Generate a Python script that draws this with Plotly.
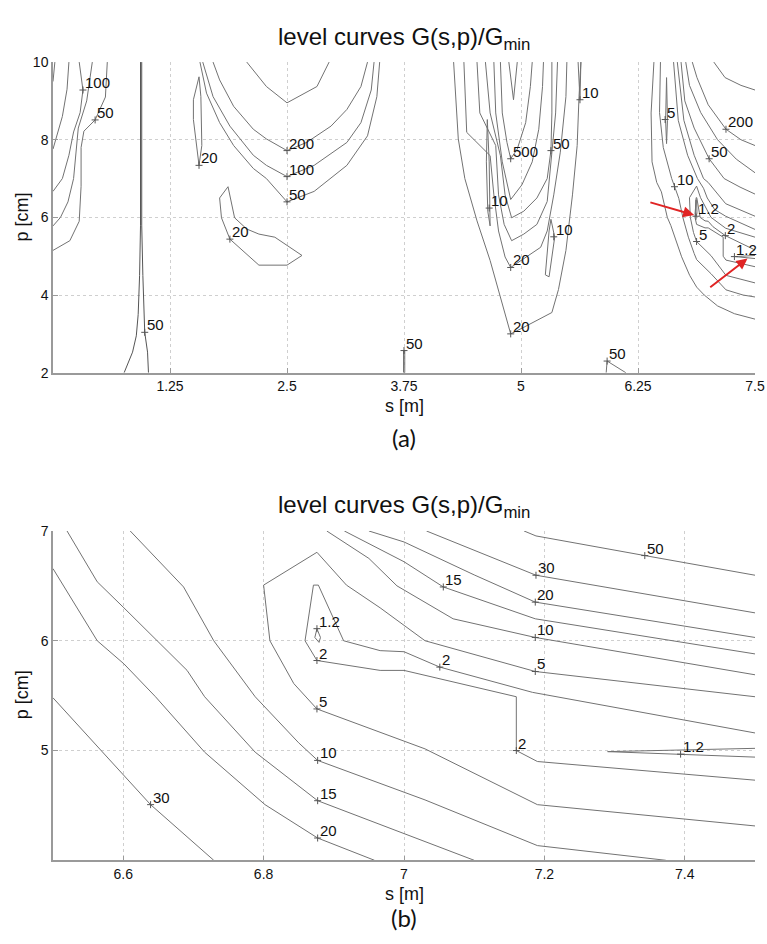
import plotly.graph_objects as go

# ================= panel (a): level curves, s [m] vs p [cm] =================
# left cluster
A_L1_S = [0.02, 0.0]
A_L1_P = [10, 9.5]
A_L2_S = [0.17, 0.15, 0.10, 0.03, 0.0]
A_L2_P = [10, 9.3, 8.6, 8.0, 7.76]
A_L3_S = [0.28, 0.32, 0.29, 0.22, 0.17, 0.10, 0.0]
A_L3_P = [10, 9.28, 8.7, 8.2, 7.6, 7.0, 6.67]
A_L4_S = [0.42, 0.36, 0.27, 0.24, 0.22, 0.16, 0.08, 0.0]
A_L4_P = [10, 9.0, 8.3, 7.6, 7.0, 6.4, 6.0, 5.78]
A_L5_S = [0.58, 0.56, 0.45, 0.33, 0.30, 0.30, 0.28, 0.18, 0.0]
A_L5_P = [10, 9.1, 8.51, 8.22, 7.8, 6.8, 5.9, 5.4, 5.15]
# narrow spike near s = 0.94
A_V1_S = [0.935, 0.935, 0.925, 0.91, 0.89, 0.85, 0.76]
A_V1_P = [10, 5.8, 4.5, 3.5, 2.95, 2.53, 2.0]
A_V2_S = [0.948, 0.948, 0.96, 0.97, 0.98, 1.01, 1.02]
A_V2_P = [10, 5.8, 4.5, 3.5, 3.04, 2.53, 2.0]
# U-shaped curves around s = 2.5
A_U0_S = [2.07, 2.28, 2.5, 2.82, 2.95]
A_U0_P = [10, 9.37, 8.95, 9.37, 10]
A_U200_S = [1.71, 1.78, 1.93, 2.14, 2.28, 2.5, 2.71, 2.97, 3.14, 3.29, 3.36]
A_U200_P = [10, 9.54, 8.86, 8.27, 8.02, 7.72, 7.93, 8.35, 8.78, 9.37, 10]
A_U100_S = [1.60, 1.71, 1.89, 2.14, 2.28, 2.5, 2.79, 3.14, 3.29, 3.40, 3.43]
A_U100_P = [10, 9.11, 8.35, 7.6, 7.34, 7.05, 7.34, 7.93, 8.44, 9.28, 10]
A_U50_S = [1.57, 1.64, 1.78, 1.93, 2.14, 2.28, 2.5, 2.79, 3.14, 3.36, 3.46, 3.49]
A_U50_P = [10, 9.2, 8.44, 7.85, 7.26, 7.0, 6.4, 6.67, 7.34, 8.1, 9.11, 10]
A_S20_S = [1.56, 1.50, 1.50, 1.53, 1.56, 1.59, 1.58, 1.56]
A_S20_P = [9.62, 9.03, 8.52, 7.85, 7.34, 7.85, 9.11, 9.62]
A_P20_S = [1.78, 1.87, 1.94, 2.07, 2.2, 2.37, 2.66, 2.5, 2.2, 1.89, 1.80, 1.78]
A_P20_P = [6.5, 6.79, 5.99, 5.7, 5.57, 5.49, 5.02, 4.77, 4.77, 5.44, 5.99, 6.5]
# small closed curves at the bottom edge
A_B1_S = [3.745, 3.745, 3.758, 3.758]
A_B1_P = [2.0, 2.57, 2.57, 2.0]
A_B2_S = [5.91, 5.92, 6.12]
A_B2_P = [2.0, 2.3, 2.0]
# V-shaped cluster around s = 4.9
A_M1_S = [4.28, 4.30, 4.33, 4.40, 4.53, 4.67, 4.80, 4.89, 5.03, 5.17, 5.33, 5.40, 5.48, 5.55, 5.60, 5.62, 5.64]
A_M1_P = [10, 9.11, 8.02, 7.0, 5.91, 4.89, 3.80, 3.0, 3.17, 3.34, 3.55, 4.14, 5.15, 6.58, 7.85, 9.11, 10]
A_M2_S = [4.39, 4.42, 4.67, 4.71, 4.76, 4.83, 4.89, 5.06, 5.21, 5.28, 5.35, 5.42, 5.48, 5.49]
A_M2_P = [10, 8.19, 7.59, 6.58, 5.65, 4.98, 4.71, 4.98, 5.23, 5.65, 6.58, 7.68, 9.11, 10]
A_M3_S = [4.53, 4.56, 4.73, 4.76, 4.82, 4.90, 5.03, 5.17, 5.28, 5.33, 5.37, 5.39]
A_M3_P = [10, 8.69, 7.85, 6.58, 5.82, 5.40, 5.57, 5.82, 6.41, 7.59, 8.69, 10]
A_M4_S = [4.62, 4.67, 4.78, 4.83, 4.90, 5.03, 5.17, 5.28, 5.32, 5.33, 5.33]
A_M4_P = [10, 8.69, 7.59, 6.58, 5.99, 6.16, 6.50, 7.0, 7.72, 8.69, 10]
A_M5_S = [4.71, 4.73, 4.80, 4.89, 5.01, 5.12, 5.19, 5.23, 5.24]
A_M5_P = [10, 8.69, 7.43, 6.46, 6.84, 7.43, 8.27, 9.37, 10]
A_M6_S = [4.78, 4.80, 4.85, 4.89, 4.96, 5.05, 5.10, 5.12]
A_M6_P = [10, 8.69, 7.93, 7.51, 7.76, 8.44, 9.37, 10]
A_M7_S = [4.87, 4.92, 4.96]
A_M7_P = [10, 9.03, 10]
A_SL1_S = [4.64, 4.66, 4.67, 4.645, 4.63, 4.64]
A_SL1_P = [8.52, 7.43, 5.78, 6.16, 7.43, 8.52]
A_SL2_S = [5.32, 5.36, 5.30, 5.26, 5.30, 5.32]
A_SL2_P = [5.95, 5.49, 4.47, 4.52, 5.65, 5.95]
A_SL3_S = [5.61, 5.63, 5.64]
A_SL3_P = [10, 9.03, 10]
# right cluster around s = 7
A_R20_S = [6.42, 6.39, 6.40, 6.45, 6.5, 6.52, 6.563, 6.601, 6.646, 6.716, 6.802, 6.877, 6.958, 7.1, 7.28, 7.5]
A_R20_P = [10, 8.69, 7.43, 6.9, 6.657, 6.448, 6.0, 5.79, 5.49, 4.985, 4.507, 4.203, 4.0, 3.72, 3.52, 3.38]
A_R10_S = [6.49, 6.48, 6.52, 6.61, 6.648, 6.686, 6.729, 6.767, 6.788, 6.85, 6.877, 7.03, 7.19, 7.373, 7.5]
A_R10_P = [10, 8.7, 7.8, 7.0, 6.746, 6.49, 6.0, 5.67, 5.49, 5.07, 4.91, 4.55, 4.134, 4.0, 3.95]
A_R10B_S = [6.63, 6.68, 6.78, 6.885, 6.95, 6.99, 7.07, 7.187, 7.5]
A_R10B_P = [10, 8.5, 7.6, 7.0, 6.75, 6.5, 6.2, 6.03, 5.69]
A_R20B_S = [6.67, 6.74, 6.85, 6.95, 7.0, 7.1, 7.187, 7.5]
A_R20B_P = [10, 8.5, 7.6, 7.0, 6.9, 6.6, 6.352, 6.03]
A_R50_S = [6.71, 6.75, 6.85, 7.01, 7.17, 7.34, 7.5]
A_R50_P = [10, 9.0, 8.3, 7.51, 7.0, 6.78, 6.6]
A_R100_S = [6.76, 6.8, 6.92, 7.1, 7.3, 7.5]
A_R100_P = [10, 9.4, 8.7, 8.0, 7.5, 7.15]
A_R200_S = [6.83, 6.88, 7.0, 7.19, 7.35, 7.5]
A_R200_P = [10, 9.6, 8.9, 8.27, 8.0, 7.85]
A_R500_S = [7.06, 7.18, 7.35, 7.5]
A_R500_P = [10, 9.6, 9.4, 9.28]
A_R5_S = [7.5, 7.187, 7.03, 6.966, 6.918, 6.876, 6.8, 6.809, 6.843, 6.876, 7.03, 7.19, 7.5]
A_R5_P = [5.49, 5.72, 6.0, 6.3, 6.507, 6.806, 6.507, 6.0, 5.61, 5.379, 5.015, 4.507, 4.313]
A_R5S_S = [6.555, 6.545, 6.555, 6.565, 6.555]
A_R5S_P = [9.6, 8.5, 7.9, 8.5, 9.6]
A_R2_S = [7.5, 7.183, 7.051, 7.0, 6.966, 6.914, 6.878, 6.871, 6.859, 6.876, 6.966, 7.0, 7.16, 7.16, 7.19, 7.5]
A_R2_P = [5.16, 5.53, 5.76, 5.9, 5.91, 6.0, 6.507, 6.507, 6.0, 5.82, 5.73, 5.73, 5.49, 5.0, 4.9, 4.73]
A_R12L_S = [6.868, 6.862, 6.870, 6.880, 6.876, 6.868]
A_R12L_P = [6.45, 6.1, 6.03, 6.1, 6.45, 6.45]
A_R12S_S = [7.5, 7.29, 7.5]
A_R12S_P = [5.02, 4.99, 4.94]

A_LAB_T = ["100", "50", "50", "20", "200", "100", "50", "20", "50", "500", "50", "10", "10", "10",
           "20", "20", "50", "5", "200", "50", "10", "1.2", "5", "2", "1.2"]
A_LAB_S = [0.32, 0.45, 0.98, 1.56, 2.5, 2.5, 2.5, 1.89, 3.75, 4.89, 5.32, 5.63, 4.66, 5.35,
           4.89, 4.89, 5.92, 6.54, 7.19, 7.01, 6.64, 6.87, 6.876, 7.183, 7.28]
A_LAB_P = [9.28, 8.51, 3.04, 7.34, 7.72, 7.05, 6.4, 5.44, 2.57, 7.51, 7.72, 9.03, 6.24, 5.5,
           4.71, 3.0, 2.3, 8.52, 8.27, 7.51, 6.79, 6.03, 5.379, 5.53, 4.99]

A_XTICKS = [1.25, 2.5, 3.75, 5, 6.25, 7.5]
A_XTICKTEXT = ["1.25", "2.5", "3.75", "5", "6.25", "7.5"]
A_YTICKS = [2, 4, 6, 8, 10]

# red arrows (tail -> head)
ARROW_TAIL_S = [6.35, 6.99]
ARROW_TAIL_P = [6.41, 4.14]
ARROW_HEAD_S = [6.85, 7.42]
ARROW_HEAD_P = [6.06, 4.94]

# ================= panel (b): zoom s 6.5..7.5, p 4..7 =================
B_50_S = [7.171, 7.188, 7.343, 7.5]
B_50_P = [7.0, 6.955, 6.776, 6.597]
B_30_S = [7.032, 7.188, 7.5]
B_30_P = [7.0, 6.597, 6.254]
B_20U_S = [6.95, 7.0, 7.1, 7.187, 7.5]
B_20U_P = [7.0, 6.9, 6.6, 6.352, 6.03]
B_15U_S = [6.915, 7.0, 7.056, 7.187, 7.5]
B_15U_P = [7.0, 6.72, 6.49, 6.2, 5.88]
B_10U_S = [6.89, 6.95, 6.99, 7.07, 7.187, 7.5]
B_10U_P = [7.0, 6.75, 6.5, 6.2, 6.03, 5.69]
B_5_S = [7.5, 7.187, 7.03, 6.966, 6.918, 6.876, 6.8, 6.809, 6.843, 6.876, 7.03, 7.19, 7.5]
B_5_P = [5.49, 5.72, 6.0, 6.3, 6.507, 6.806, 6.507, 6.0, 5.61, 5.379, 5.015, 4.507, 4.313]
B_2_S = [7.5, 7.183, 7.051, 7.0, 6.966, 6.914, 6.878, 6.871, 6.859, 6.876, 6.966, 7.0, 7.16, 7.16, 7.19, 7.5]
B_2_P = [5.16, 5.53, 5.76, 5.9, 5.91, 6.0, 6.507, 6.507, 6.0, 5.82, 5.73, 5.73, 5.49, 5.0, 4.9, 4.73]
B_12L_S = [6.876, 6.873, 6.879, 6.881, 6.876]
B_12L_P = [6.11, 6.03, 5.985, 6.03, 6.11]
B_12S_S = [7.5, 7.29, 7.5]
B_12S_P = [5.02, 4.99, 4.94]
B_10L_S = [6.61, 6.648, 6.686, 6.729, 6.767, 6.788, 6.85, 6.877, 7.03, 7.19, 7.373]
B_10L_P = [7.0, 6.746, 6.49, 6.0, 5.67, 5.49, 5.07, 4.91, 4.55, 4.134, 4.0]
B_15L_S = [6.52, 6.563, 6.601, 6.644, 6.691, 6.716, 6.788, 6.877, 7.1]
B_15L_P = [7.0, 6.537, 6.30, 6.03, 5.73, 5.49, 4.985, 4.543, 4.0]
B_20L_S = [6.5, 6.52, 6.563, 6.601, 6.646, 6.716, 6.802, 6.877, 6.958]
B_20L_P = [6.657, 6.448, 6.0, 5.79, 5.49, 4.985, 4.507, 4.203, 4.0]
B_30L_S = [6.5, 6.639, 6.729]
B_30L_P = [5.48, 4.507, 4.0]

B_LAB_T = ["50", "30", "15", "20", "10", "1.2", "2", "2", "5", "5", "10", "2", "1.2", "15", "30", "20"]
B_LAB_S = [7.343, 7.188, 7.056, 7.187, 7.187, 6.876, 6.876, 7.051, 7.187, 6.876, 6.877, 7.16, 7.394,
           6.877, 6.639, 6.877]
B_LAB_P = [6.776, 6.597, 6.49, 6.352, 6.03, 6.11, 5.82, 5.76, 5.72, 5.379, 4.91, 5.0, 4.967,
           4.543, 4.507, 4.203]

B_XTICKS = [6.6, 6.8, 7.0, 7.2, 7.4]
B_XTICKTEXT = ["6.6", "6.8", "7", "7.2", "7.4"]
B_YTICKS = [5, 6, 7]

TITLE = "level curves G(s,p)/G<sub>min</sub>"

# ---------------------------------------------------------------------
W, H = 767, 944
ML, MR = 53, 12
LINE_C = "#727272"
FONT = "Liberation Sans, Arial, sans-serif"

fig = go.Figure()


def add_curve(s, p, xa, ya, color=LINE_C, width=1.0):
    fig.add_trace(go.Scatter(x=s, y=p, mode="lines", xaxis=xa, yaxis=ya,
                             line=dict(color=color, width=width),
                             hoverinfo="skip", showlegend=False))


curves_a = [(A_L1_S, A_L1_P), (A_L2_S, A_L2_P), (A_L3_S, A_L3_P), (A_L4_S, A_L4_P), (A_L5_S, A_L5_P),
            (A_U0_S, A_U0_P), (A_U200_S, A_U200_P), (A_U100_S, A_U100_P), (A_U50_S, A_U50_P),
            (A_S20_S, A_S20_P), (A_P20_S, A_P20_P), (A_B1_S, A_B1_P), (A_B2_S, A_B2_P),
            (A_M1_S, A_M1_P), (A_M2_S, A_M2_P), (A_M3_S, A_M3_P), (A_M4_S, A_M4_P),
            (A_M5_S, A_M5_P), (A_M6_S, A_M6_P), (A_M7_S, A_M7_P),
            (A_SL1_S, A_SL1_P), (A_SL2_S, A_SL2_P), (A_SL3_S, A_SL3_P),
            (A_R20_S, A_R20_P), (A_R10_S, A_R10_P), (A_R10B_S, A_R10B_P), (A_R20B_S, A_R20B_P),
            (A_R50_S, A_R50_P), (A_R100_S, A_R100_P), (A_R200_S, A_R200_P), (A_R500_S, A_R500_P),
            (A_R5_S, A_R5_P), (A_R5S_S, A_R5S_P), (A_R2_S, A_R2_P), (A_R12L_S, A_R12L_P),
            (A_R12S_S, A_R12S_P)]
for s, p in curves_a:
    add_curve(s, p, "x", "y")
add_curve(A_V1_S, A_V1_P, "x", "y", "#555555", 1.0)
add_curve(A_V2_S, A_V2_P, "x", "y", "#555555", 1.0)

curves_b = [(B_50_S, B_50_P), (B_30_S, B_30_P), (B_20U_S, B_20U_P), (B_15U_S, B_15U_P),
            (B_10U_S, B_10U_P), (B_5_S, B_5_P), (B_2_S, B_2_P), (B_12L_S, B_12L_P),
            (B_12S_S, B_12S_P), (B_10L_S, B_10L_P), (B_15L_S, B_15L_P), (B_20L_S, B_20L_P),
            (B_30L_S, B_30L_P)]
for s, p in curves_b:
    add_curve(s, p, "x2", "y2")

# "+" markers at label points
for S, P, xa, ya in [(A_LAB_S, A_LAB_P, "x", "y"), (B_LAB_S, B_LAB_P, "x2", "y2")]:
    fig.add_trace(go.Scatter(x=S, y=P, mode="markers", xaxis=xa, yaxis=ya,
                             marker=dict(symbol="cross-thin", size=5,
                                         line=dict(width=1, color="#555555")),
                             hoverinfo="skip", showlegend=False))

ann = []
for t, s, p in zip(A_LAB_T, A_LAB_S, A_LAB_P):
    ann.append(dict(x=s, y=p, xref="x", yref="y", text=t, showarrow=False,
                    xanchor="left", yanchor="bottom", xshift=0, yshift=-3,
                    font=dict(family=FONT, size=15, color="#111111")))
for t, s, p in zip(B_LAB_T, B_LAB_S, B_LAB_P):
    ann.append(dict(x=s, y=p, xref="x2", yref="y2", text=t, showarrow=False,
                    xanchor="left", yanchor="bottom", xshift=0, yshift=-3,
                    font=dict(family=FONT, size=15, color="#111111")))
for ts, tp, hs, hp in zip(ARROW_TAIL_S, ARROW_TAIL_P, ARROW_HEAD_S, ARROW_HEAD_P):
    ann.append(dict(x=hs, y=hp, xref="x", yref="y", ax=ts, ay=tp, axref="x", ayref="y",
                    text=" ", showarrow=True, arrowhead=2, arrowsize=1.1, arrowwidth=2,
                    arrowcolor="#e02424"))


def px(x):
    return (x - ML) / (W - ML - MR)


def py(y):
    return 1 - y / H


for ty in (31, 507):
    ann.append(dict(x=px(404), y=py(ty), xref="paper", yref="paper", text=TITLE,
                    showarrow=False, xanchor="center", yanchor="middle",
                    font=dict(family=FONT, size=24, color="#111111")))
for ty in (405, 901):
    ann.append(dict(x=px(404), y=py(ty), xref="paper", yref="paper", text="s [m]",
                    showarrow=False, xanchor="center", yanchor="middle",
                    font=dict(family=FONT, size=18, color="#111111")))
for ty, tx in ((213, "p [cm]"), (699, "p [cm]")):
    ann.append(dict(x=px(22), y=py(ty), xref="paper", yref="paper", text=tx, textangle=-90,
                    showarrow=False, xanchor="center", yanchor="middle",
                    font=dict(family=FONT, size=18, color="#111111")))
for ty, tx in ((437, "(a)"), (925, "(b)")):
    ann.append(dict(x=px(404), y=py(ty), xref="paper", yref="paper", text=tx,
                    showarrow=False, xanchor="center", yanchor="middle",
                    font=dict(family="Lato, Open Sans, sans-serif", size=24, color="#111111")))

axis_common = dict(showline=True, linecolor="#9a9a9a", linewidth=1.5, ticks="inside",
                   ticklen=5, tickcolor="#9a9a9a", showgrid=True, gridcolor="#cfcfcf",
                   griddash="dot", gridwidth=1, zeroline=False, mirror=False,
                   tickfont=dict(family=FONT, size=14, color="#111111"))

fig.update_layout(
    width=W, height=H, margin=dict(l=ML, r=MR, t=0, b=0),
    paper_bgcolor="white", plot_bgcolor="white", showlegend=False,
    xaxis=dict(domain=[0, 1], range=[0, 7.5], anchor="y", tickvals=A_XTICKS,
               ticktext=A_XTICKTEXT, **axis_common),
    yaxis=dict(domain=[py(371), py(55)], range=[2, 10], anchor="x", tickvals=A_YTICKS,
               **axis_common),
    xaxis2=dict(domain=[0, 1], range=[6.5, 7.5], anchor="y2", tickvals=B_XTICKS,
                ticktext=B_XTICKTEXT, **axis_common),
    yaxis2=dict(domain=[py(867), py(532)], range=[4, 7], anchor="x2", tickvals=B_YTICKS,
                **axis_common),
    annotations=ann,
)

fig.write_html("out.html", config={"displayModeBar": False})
